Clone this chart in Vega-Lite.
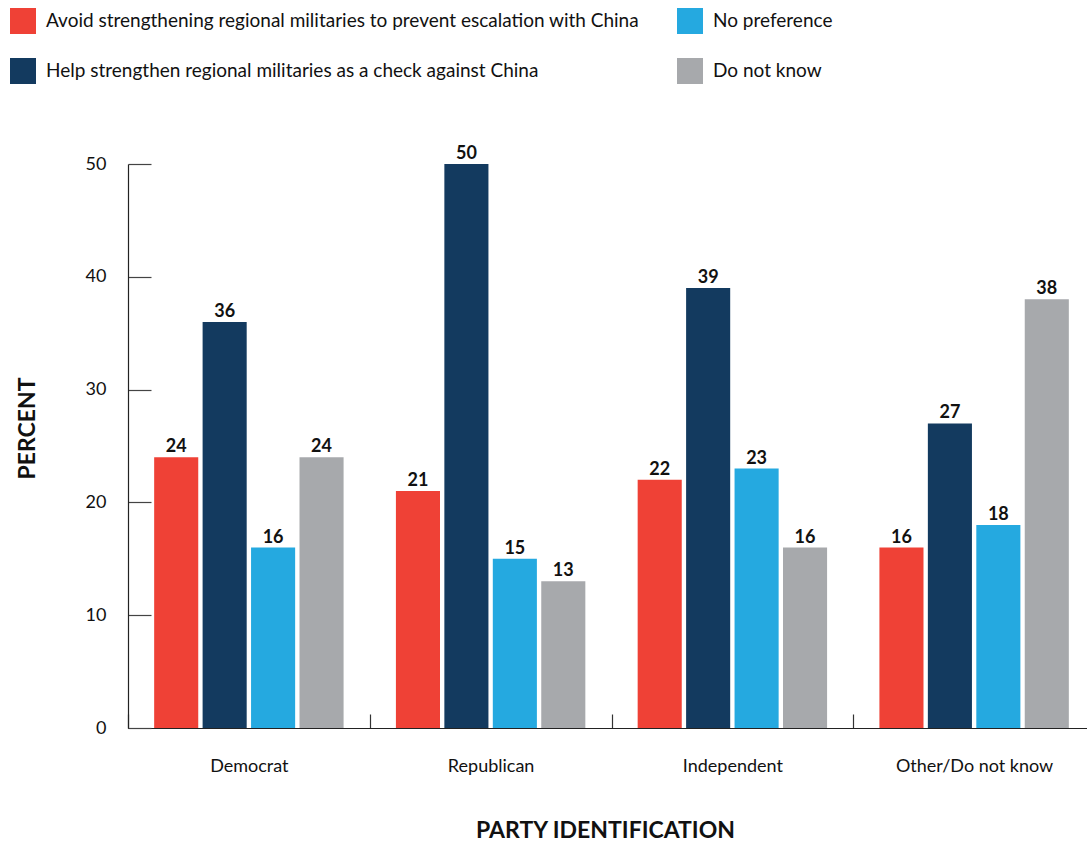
{
  "$schema": "https://vega.github.io/schema/vega-lite/v6.json",
  "autosize": {"type": "none"},
  "padding": {"left": 128, "top": 164, "right": 0, "bottom": 118},
  "width": 959,
  "height": 564,
  "background": "white",
  "config": {
    "view": {"stroke": null},
    "font": "Lato"
  },
  "data": {
    "values": [
      {"party": "Democrat", "response": "Avoid strengthening regional militaries to prevent escalation with China", "pct": 24},
      {"party": "Democrat", "response": "Help strengthen regional militaries as a check against China", "pct": 36},
      {"party": "Democrat", "response": "No preference", "pct": 16},
      {"party": "Democrat", "response": "Do not know", "pct": 24},
      {"party": "Republican", "response": "Avoid strengthening regional militaries to prevent escalation with China", "pct": 21},
      {"party": "Republican", "response": "Help strengthen regional militaries as a check against China", "pct": 50},
      {"party": "Republican", "response": "No preference", "pct": 15},
      {"party": "Republican", "response": "Do not know", "pct": 13},
      {"party": "Independent", "response": "Avoid strengthening regional militaries to prevent escalation with China", "pct": 22},
      {"party": "Independent", "response": "Help strengthen regional militaries as a check against China", "pct": 39},
      {"party": "Independent", "response": "No preference", "pct": 23},
      {"party": "Independent", "response": "Do not know", "pct": 16},
      {"party": "Other/Do not know", "response": "Avoid strengthening regional militaries to prevent escalation with China", "pct": 16},
      {"party": "Other/Do not know", "response": "Help strengthen regional militaries as a check against China", "pct": 27},
      {"party": "Other/Do not know", "response": "No preference", "pct": 18},
      {"party": "Other/Do not know", "response": "Do not know", "pct": 38}
    ]
  },
  "encoding": {
    "x": {
      "field": "party",
      "type": "nominal",
      "sort": ["Democrat", "Republican", "Independent", "Other/Do not know"],
      "scale": {"range": [0, 967], "paddingInner": 0, "paddingOuter": 0},
      "axis": {
        "title": "PARTY IDENTIFICATION",
        "titleFont": "Lato",
        "titleFontSize": 23,
        "titleFontWeight": "bold",
        "titleColor": "#111111",
        "titleX": 477,
        "titleY": 109,
        "titleAlign": "center",
        "titleBaseline": "alphabetic",
        "titleAnchor": null,
        "labelAngle": 0,
        "labelFont": "Lato",
        "labelFontSize": 18,
        "labelColor": "#111111",
        "labelBaseline": "alphabetic",
        "labelPadding": 57,
        "tickBand": "extent",
        "tickSize": -14,
        "tickColor": "#333333",
        "tickWidth": 1.2,
        "domainColor": "#222222",
        "domainWidth": 1.2,
        "grid": false
      }
    },
    "xOffset": {
      "field": "response",
      "type": "nominal",
      "sort": [
        "Avoid strengthening regional militaries to prevent escalation with China",
        "Help strengthen regional militaries as a check against China",
        "No preference",
        "Do not know"
      ],
      "scale": {"paddingInner": 0.09, "paddingOuter": 0.54}
    },
    "y": {
      "field": "pct",
      "type": "quantitative",
      "scale": {"domain": [0, 50], "nice": false},
      "axis": {
        "title": "PERCENT",
        "titleFont": "Lato",
        "titleFontSize": 23,
        "titleFontWeight": "bold",
        "titleColor": "#111111",
        "titleX": -101,
        "titleY": 264,
        "titleAngle": -90,
        "titleAlign": "center",
        "titleBaseline": "middle",
        "titleAnchor": null,
        "values": [0, 10, 20, 30, 40, 50],
        "labelFont": "Lato",
        "labelFontSize": 18,
        "labelColor": "#111111",
        "labelPadding": 45,
        "tickSize": -23,
        "tickColor": "#444444",
        "tickWidth": 1.2,
        "domainColor": "#222222",
        "domainWidth": 1.2,
        "grid": false
      }
    }
  },
  "layer": [
    {
      "mark": {"type": "bar"},
      "encoding": {
        "color": {
          "field": "response",
          "type": "nominal",
          "scale": {
            "domain": [
              "Avoid strengthening regional militaries to prevent escalation with China",
              "Help strengthen regional militaries as a check against China",
              "No preference",
              "Do not know"
            ],
            "range": ["#EF4136", "#133A5F", "#25A9E0", "#A7A9AC"]
          },
          "legend": {
            "title": null,
            "orient": "none",
            "legendX": -118,
            "legendY": -156,
            "columns": 2,
            "columnPadding": 37,
            "rowPadding": 24,
            "symbolType": "square",
            "symbolSize": 676,
            "symbolStrokeWidth": 0,
            "labelFont": "Lato",
            "labelFontSize": 19,
            "labelColor": "#111111",
            "labelOffset": 10,
            "labelLimit": 800
          }
        }
      }
    },
    {
      "mark": {"type": "text", "dy": -5, "baseline": "alphabetic", "fontWeight": "bold", "fontSize": 18, "font": "Lato", "color": "#111111"},
      "encoding": {
        "text": {"field": "pct", "type": "quantitative"}
      }
    }
  ]
}
